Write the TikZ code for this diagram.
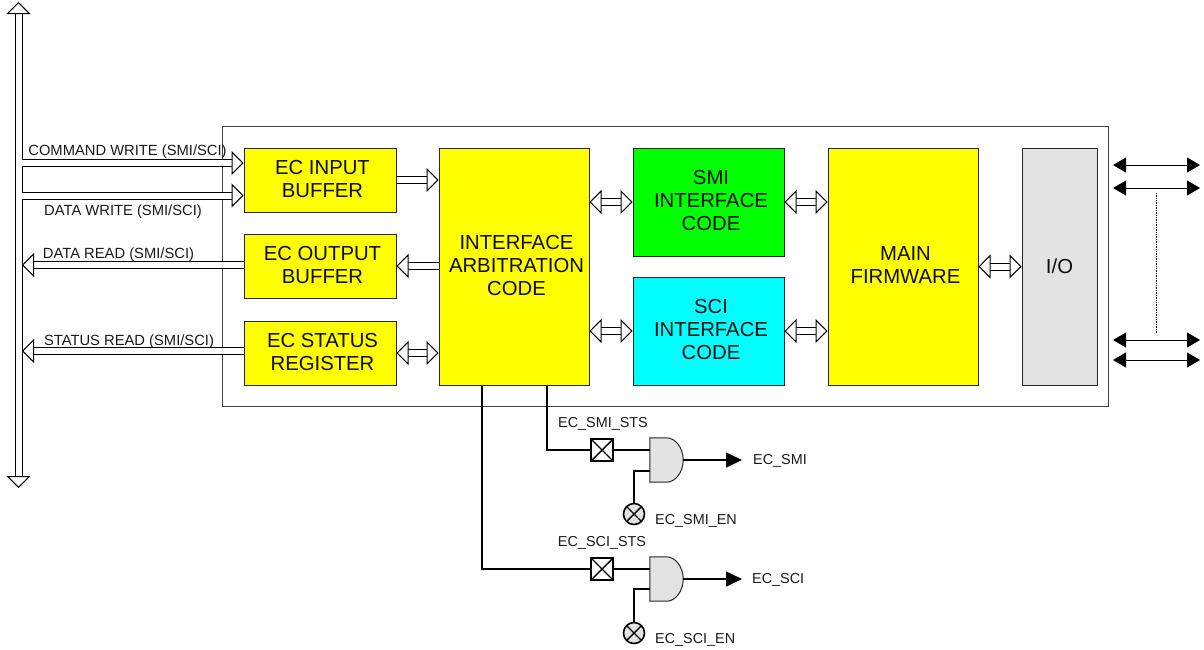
\documentclass[tikz,border=0pt]{standalone}
\usepackage{fontspec}
\setmainfont{Liberation Sans}
\usetikzlibrary{arrows.meta}
\definecolor{gatefill}{HTML}{E3E3E3}
\definecolor{edgegray}{HTML}{404040}
\definecolor{fwyellow}{HTML}{FFFF00}
\definecolor{smigreen}{HTML}{00FF00}
\definecolor{scicyan}{HTML}{00FFFF}
\newcommand{\blk}[1]{\hspace{5pt}\raisebox{0pt}[\dimexpr\height+2pt]{\begin{tabular}{@{}c@{}}#1\end{tabular}}}
\newcommand{\andgate}[1]{\draw[draw=black!85,fill=gatefill,line width=1pt] (#1.south west) -- (#1.north west) -- (#1.north)
  .. controls ([xshift=9pt]#1.north) and ([yshift=12pt]#1.east) .. (#1.east)
  .. controls ([yshift=-12pt]#1.east) and ([xshift=9pt]#1.south) .. (#1.south) -- cycle;}
\tikzset{
  block/.style={draw=black!85,line width=1pt,inner sep=0pt,text=black!95,
    font=\fontsize{20.3}{23}\selectfont},
  sig/.style={font=\fontsize{14.75}{16}\selectfont,inner sep=0pt,text=black!90},
  pinname/.style={font=\fontsize{14.4}{16}\selectfont,inner sep=0pt,text=black!90},
  bus/.style={draw=black,line width=1pt,double=white,double distance=6pt},
  busone/.style={bus,-{Triangle[open,length=12pt,width=24pt,fill=white,line width=1pt]}},
  bustwo/.style={bus,{Triangle[open,length=12pt,width=24pt,fill=white,line width=1pt]}-{Triangle[open,length=12pt,width=24pt,fill=white,line width=1pt]}},
  pin/.style={line width=1pt,{Triangle[length=13pt,width=15pt]}-{Triangle[length=13pt,width=15pt]}},
  wire/.style={line width=1.6pt},
  latch/.style={draw,line width=1.6pt,fill=white,minimum size=22pt,inner sep=0pt,
    path picture={\draw[line width=1.4pt] (path picture bounding box.north west)--(path picture bounding box.south east)
      (path picture bounding box.north east)--(path picture bounding box.south west);}},
  enable/.style={circle,draw,line width=1.6pt,fill=gatefill,minimum size=21pt,inner sep=0pt,
    path picture={\draw[line width=1.4pt] (path picture bounding box.north west)--(path picture bounding box.south east)
      (path picture bounding box.north east)--(path picture bounding box.south west);}},
  gate/.style={minimum height=44pt,minimum width=33pt,inner sep=0pt}
}
\begin{document}
\begin{tikzpicture}[x=1pt,y=-1pt]
\useasboundingbox (0,0) rectangle (1204,649);
% chip outline
\node[draw=edgegray,line width=1pt,minimum width=886pt,minimum height=280pt,inner sep=0pt] (chip) at (665,266) {};
% blocks
\node[block,fill=fwyellow,minimum width=152pt,minimum height=64pt] (inbuf) at (320,180) {\blk{EC INPUT\\BUFFER}};
\node[block,fill=fwyellow,minimum width=152pt,minimum height=64pt] (outbuf) at (320,266) {\blk{EC OUTPUT\\BUFFER}};
\node[block,fill=fwyellow,minimum width=152pt,minimum height=64pt] (status) at (320,353) {\blk{EC STATUS\\REGISTER}};
\node[block,fill=fwyellow,minimum width=150pt,minimum height=237pt] (arb) at (514,266.5) {\blk{INTERFACE\\ARBITRATION\\CODE}};
\node[block,fill=smigreen,minimum width=151pt,minimum height=108pt] (smi) at (708.5,202) {\blk{SMI\\INTERFACE\\CODE}};
\node[block,fill=scicyan,minimum width=151pt,minimum height=108pt] (sci) at (708.5,331) {\blk{SCI\\INTERFACE\\CODE}};
\node[block,fill=fwyellow,minimum width=150pt,minimum height=237pt] (fw) at (903,266.5) {\blk{MAIN\\FIRMWARE}};
\node[block,fill=gatefill,minimum width=75pt,minimum height=237pt] (io) at (1059.5,266.5) {I/O};
% host bus
\coordinate (bustop) at (18.5,2);
\coordinate (busbot) at (18.5,488);
\draw[bustwo] (bustop) -- (busbot);
\coordinate (cmdw) at (22,163);
\coordinate (dataw) at (22,195.5);
\coordinate (datar) at (22,265);
\coordinate (statr) at (22,351);
\draw[busone] (cmdw) -- (cmdw -| inbuf.west);
\draw[busone] (dataw) -- (dataw -| inbuf.west);
\draw[busone] (outbuf.west |- datar) -- (datar);
\draw[busone] (status.west |- statr) -- (statr);
\node[sig] (cmdwtxt) at (127.5,151.5) {COMMAND WRITE (SMI/SCI)};
\node[sig] (datawtxt) at (123,211.5) {DATA WRITE (SMI/SCI)};
\node[sig] (datartxt) at (118.5,255) {DATA READ (SMI/SCI)};
\node[sig] (statrtxt) at (129,342) {STATUS READ (SMI/SCI)};
% links between blocks
\draw[busone] (inbuf.east) -- (inbuf.east -| arb.west);
\draw[busone] (arb.west |- outbuf.east) -- (outbuf.east);
\draw[bustwo] (status.east) -- (status.east -| arb.west);
\draw[bustwo] (arb.east |- smi.west) -- (smi.west);
\draw[bustwo] (arb.east |- sci.west) -- (sci.west);
\draw[bustwo] (smi.east) -- (smi.east -| fw.west);
\draw[bustwo] (sci.east) -- (sci.east -| fw.west);
\draw[bustwo] (fw.east) -- (io.west);
% port pins
\coordinate (pa) at (1113,165);
\coordinate (pb) at (1113,188);
\coordinate (pc) at (1113,340);
\coordinate (pd) at (1113,360);
\coordinate (qa) at (1200,165);
\coordinate (qb) at (1200,188);
\coordinate (qc) at (1200,340);
\coordinate (qd) at (1200,360);
\draw[pin] (pa) -- (qa);
\draw[pin] (pb) -- (qb);
\draw[pin] (pc) -- (qc);
\draw[pin] (pd) -- (qd);
\coordinate (dota) at (1156.5,193);
\coordinate (dotb) at (1156.5,333);
\draw[densely dotted,line width=.7pt] (dota) -- (dotb);
% status logic
\node[gate] (gsmi) at (666.5,460) {};
\node[gate] (gsci) at (666.5,579) {};
\andgate{gsmi}
\andgate{gsci}
\node[latch] (lsmi) at (602,450) {};
\node[latch] (lsci) at (602,569) {};
\node[enable] (esmi) at (634,514) {};
\node[enable] (esci) at (634,633) {};
\coordinate (osmi) at (742,460);
\coordinate (osci) at (742,579);
\draw[wire] (arb.south -| 547,0) |- (lsmi.west);
\draw[wire] (arb.south -| 482,0) |- (lsci.west);
\draw[wire] (lsmi.east) -- (lsmi.east -| gsmi.west);
\draw[wire] (lsci.east) -- (lsci.east -| gsci.west);
\draw[wire] (esmi.north) |- ([yshift=-11pt]gsmi.west);
\draw[wire] (esci.north) |- ([yshift=-10pt]gsci.west);
\draw[wire,-{Triangle[length=16pt,width=15pt]}] (gsmi.east) -- (osmi);
\draw[wire,-{Triangle[length=16pt,width=15pt]}] (gsci.east) -- (osci);
\node[pinname] (lsmitxt) at (603,423.5) {EC\_SMI\_STS};
\node[pinname] (lscitxt) at (602,542.5) {EC\_SCI\_STS};
\node[pinname,anchor=west] (osmitxt) at (753,461) {EC\_SMI};
\node[pinname,anchor=west] (oscitxt) at (752,579.5) {EC\_SCI};
\node[pinname,anchor=west] (esmitxt) at (655,520.5) {EC\_SMI\_EN};
\node[pinname,anchor=west] (escitxt) at (655,639.5) {EC\_SCI\_EN};
\end{tikzpicture}
\end{document}
